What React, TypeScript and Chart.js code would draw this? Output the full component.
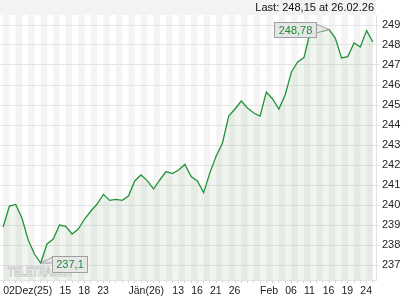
import { useEffect, useRef } from 'react';
import { Chart, registerables } from 'chart.js';

Chart.register(...registerables);

const dates = [
  '02.12', '03.12', '04.12', '05.12', '08.12', '09.12', '10.12', '11.12', '12.12', '15.12',
  '16.12', '17.12', '18.12', '19.12', '22.12', '23.12', '24.12', '29.12', '30.12', '31.12',
  '02.01', '05.01', '06.01', '07.01', '08.01', '09.01', '12.01', '13.01', '14.01', '15.01',
  '16.01', '19.01', '20.01', '21.01', '22.01', '23.01', '26.01', '27.01', '28.01', '29.01',
  '30.01', '02.02', '03.02', '04.02', '05.02', '06.02', '09.02', '10.02', '11.02', '12.02',
  '13.02', '16.02', '17.02', '18.02', '19.02', '20.02', '23.02', '24.02', '25.02', '26.02',
];

const values = [
  238.9, 239.95, 240.03, 239.35, 238.25, 237.55, 237.1, 238.05, 238.3, 239.0,
  238.93, 238.55, 238.8, 239.3, 239.7, 240.05, 240.53, 240.23, 240.28, 240.23,
  240.45, 241.2, 241.5, 241.22, 240.8, 241.25, 241.67, 241.57, 241.75, 242.03,
  241.42, 241.2, 240.62, 241.62, 242.45, 243.1, 244.45, 244.8, 245.2, 244.85,
  244.6, 244.45, 245.65, 245.3, 244.8, 245.5, 246.65, 247.15, 247.37, 248.65,
  248.65, 248.7, 248.78, 248.35, 247.35, 247.42, 248.1, 247.9, 248.72, 248.15,
];

const tickLabels: Record<string, string> = {
  '02.12': '02Dez(25)',
  '15.12': '15',
  '18.12': '18',
  '23.12': '23',
  '02.01': 'Jän(26)',
  '13.01': '13',
  '16.01': '16',
  '21.01': '21',
  '26.01': '26',
  '02.02': 'Feb',
  '06.02': '06',
  '11.02': '11',
  '16.02': '16',
  '19.02': '19',
  '24.02': '24',
};

const yTicks = [237, 238, 239, 240, 241, 242, 243, 244, 245, 246, 247, 248, 249];

const headerText = 'Last: 248,15 at 26.02.26';
const maxText = '248,78';
const minText = '237,1';
const watermark = 'TELETRADER';

const FONT = '"Liberation Sans", Arial, sans-serif';

export default function App() {
  const ref = useRef<HTMLCanvasElement>(null);

  useEffect(() => {
    document.body.style.margin = '0';
    const canvas = ref.current;
    if (!canvas) return;

    const bgPlugin = {
      id: 'bgPlugin',
      beforeDraw(chart: any) {
        const { ctx, chartArea: ca, scales } = chart;
        const xs = scales.x;
        ctx.save();
        ctx.fillStyle = '#f3f3f3';
        ctx.fillRect(0, 0, ca.right, ca.top);
        ctx.fillStyle = '#f4f4f4';
        for (let i = 0; i + 1 < dates.length; i += 2) {
          const x0 = xs.getPixelForValue(i);
          const x1 = xs.getPixelForValue(i + 1);
          ctx.fillRect(x0, ca.top, x1 - x0, ca.bottom - ca.top);
        }
        ctx.fillStyle = '#111';
        ctx.font = `11px ${FONT}`;
        ctx.textAlign = 'right';
        ctx.textBaseline = 'alphabetic';
        ctx.fillText(headerText, ca.right - 2, 11);
        ctx.restore();
      },
      afterDatasetsDraw(chart: any) {
        const { ctx, scales } = chart;
        const xs = scales.x;
        const ys = scales.y;
        ctx.save();
        // watermark
        ctx.font = `bold 12px ${FONT}`;
        const w = ctx.measureText(watermark).width;
        ctx.translate(8, 276);
        ctx.scale(64 / w, 1);
        ctx.lineWidth = 1;
        ctx.strokeStyle = '#c8c8c8';
        ctx.fillStyle = 'rgba(255,255,255,0.9)';
        ctx.textAlign = 'left';
        ctx.fillText(watermark, 0, 0);
        ctx.strokeText(watermark, 0, 0);
        ctx.restore();

        let maxI = 0;
        let minI = 0;
        values.forEach((v, i) => {
          if (v > values[maxI]) maxI = i;
          if (v < values[minI]) minI = i;
        });

        const drawBox = (bx: number, by: number, bw: number, bh: number, text: string, wedge: number[][]) => {
          ctx.save();
          ctx.fillStyle = '#e6e6e6';
          ctx.strokeStyle = '#a0a0a0';
          ctx.lineWidth = 1;
          ctx.beginPath();
          ctx.moveTo(wedge[0][0], wedge[0][1]);
          ctx.lineTo(wedge[1][0], wedge[1][1]);
          ctx.lineTo(wedge[2][0], wedge[2][1]);
          ctx.closePath();
          ctx.fill();
          ctx.stroke();
          ctx.fillRect(bx, by, bw, bh);
          ctx.strokeRect(bx + 0.5, by + 0.5, bw - 1, bh - 1);
          ctx.fillStyle = '#e6e6e6';
          ctx.fillStyle = '#1e8a34';
          ctx.font = `11px ${FONT}`;
          ctx.textAlign = 'center';
          ctx.textBaseline = 'middle';
          ctx.fillText(text, bx + bw / 2, by + bh / 2 + 0.5);
          ctx.restore();
        };

        const mx = xs.getPixelForValue(maxI);
        const my = ys.getPixelForValue(values[maxI]);
        const mbx = Math.round(mx - 55);
        const mby = Math.round(my - 7);
        drawBox(mbx, mby, 43, 16, maxText, [
          [mbx + 42, mby + 2],
          [mx, my],
          [mbx + 42, mby + 11],
        ]);

        const nx = xs.getPixelForValue(minI);
        const ny = ys.getPixelForValue(values[minI]);
        const nbx = Math.round(nx + 11);
        const nby = Math.round(ny - 7);
        drawBox(nbx, nby, 36, 17, minText, [
          [nbx + 1, nby + 1],
          [nx, ny],
          [nbx + 1, nby + 7],
        ]);
      },
    };

    const chart = new Chart(canvas, {
      type: 'line',
      data: {
        labels: dates,
        datasets: [
          {
            data: values,
            borderColor: '#23933a',
            borderWidth: 1.3,
            backgroundColor: 'rgba(60,130,60,0.08)',
            fill: 'start',
            pointRadius: 0,
            tension: 0,
          },
        ],
      },
      options: {
        animation: false,
        responsive: false,
        maintainAspectRatio: false,
        devicePixelRatio: 1,
        layout: { padding: { top: 15, left: 0, right: 0, bottom: 0 } },
        plugins: {
          legend: { display: false },
          tooltip: { enabled: false },
          title: { display: false },
        },
        scales: {
          x: {
            type: 'category',
            offset: true,
            grid: {
              drawOnChartArea: false,
              drawTicks: true,
              tickLength: 3,
              color: '#d4d4d4',
            },
            border: { display: true, color: '#e2e2e2' },
            ticks: {
              autoSkip: false,
              maxRotation: 0,
              minRotation: 0,
              align: 'start',
              padding: 2,
              color: '#222',
              font: { family: FONT, size: 10.5 },
              callback: (_v: any, i: number) => tickLabels[dates[i]] ?? '',
            },
            afterFit: (s: any) => {
              s.height = 20;
            },
          },
          y: {
            position: 'right',
            min: 236.25,
            max: 249.5,
            afterBuildTicks: (s: any) => {
              s.ticks = yTicks.map((v) => ({ value: v }));
            },
            grid: { color: '#e4e4e4', tickLength: 4, drawTicks: true },
            border: { display: true, color: '#e2e2e2' },
            ticks: {
              padding: 2,
              color: '#222',
              font: { family: FONT, size: 11 },
              callback: (v: any) => String(v),
            },
            afterFit: (s: any) => {
              s.width = 44;
            },
          },
        },
      },
      plugins: [bgPlugin],
    } as any);

    return () => chart.destroy();
  }, []);

  return (
    <div style={{ position: 'absolute', left: 0, top: 0, width: 420, height: 300 }}>
      <canvas ref={ref} width={420} height={300} style={{ width: 420, height: 300, display: 'block' }} />
    </div>
  );
}
